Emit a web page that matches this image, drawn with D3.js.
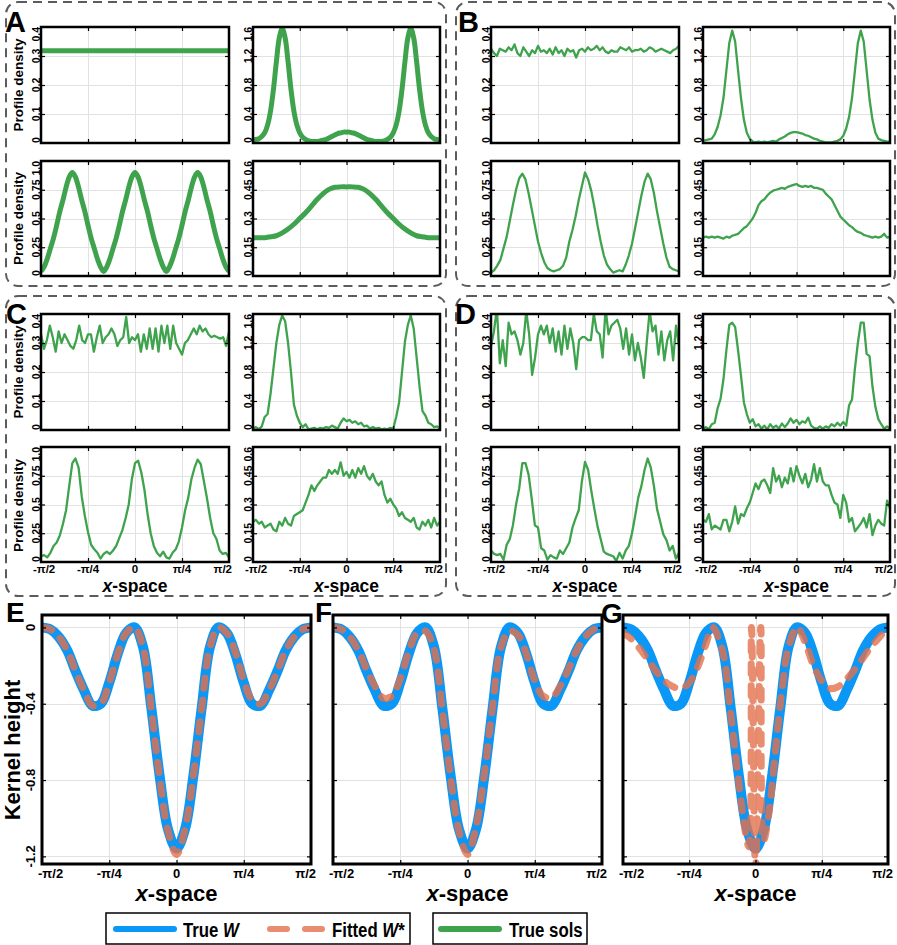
<!DOCTYPE html>
<html>
<head>
<meta charset="utf-8">
<title>Profiles and kernels</title>
<script src="https://d3js.org/d3.v7.min.js"></script>
<style>
body {margin: 0; background: white;}
svg text {font-family: "Liberation Sans", Arial, Helvetica, sans-serif; font-weight: bold; fill: black;}
.panelBox {fill: none; stroke: #5c5c5c; stroke-width: 2; stroke-dasharray: 9,6;}
.frame {fill: none; stroke: black; stroke-width: 2.5;}
.grid line {stroke: #e2e2e2; stroke-width: 1; shape-rendering: crispEdges;}
.ticks line {stroke: black; stroke-width: 1.2;}
</style>
</head>
<body>
<svg id="fig" width="897" height="945"></svg>
<script>
var PI = Math.PI;

// shared x axis
var xTickValues = [-PI/2, -PI/4, 0, PI/4, PI/2];
var xTickLabels = ["-π/2", "-π/4", "0", "π/4", "π/2"];

// y axes of the four profile slots
var yTicksFlat = [0, 0.1, 0.2, 0.3, 0.4];
var yLabelsFlat = ["0", "0.1", "0.2", "0.3", "0.4"];
var yTicksTwo = [0, 0.4, 0.8, 1.2, 1.6];
var yLabelsTwo = ["0", "0.4", "0.8", "1.2", "1.6"];
var yTicksThree = [0, 0.25, 0.5, 0.75, 1];
var yLabelsThree = ["0", "0.25", "0.5", "0.75", "1.0"];
var yTicksBump = [0, 0.15, 0.3, 0.45, 0.6];
var yLabelsBump = ["0", "0.15", "0.3", "0.45", "0.6"];

// kernel y axis
var kTicks = [0, -0.4, -0.8, -1.2];
var kLabels = ["0", "-0.4", "-0.8", "-1.2"];

// A: true solutions (smooth)
var solA_flat = [0.318, 0.318];
var solA_two = [0.04,0.05,0.06,0.09,0.14,0.25,0.44,0.74,1.12,1.45,
  1.58,1.45,1.12,0.74,0.44,0.25,0.14,0.08,0.05,0.03,
  0.02,0.02,0.02,0.03,0.04,0.05,0.07,0.09,0.11,0.13,
  0.14,0.15,0.15,0.15,0.14,0.13,0.11,0.09,0.07,0.05,
  0.04,0.03,0.02,0.02,0.02,0.03,0.05,0.08,0.14,0.25,
  0.44,0.74,1.12,1.45,1.58,1.45,1.12,0.74,0.44,0.25,
  0.14,0.09,0.06,0.05,0.04];
var solA_three = [0.04,0.08,0.15,0.24,0.33,0.44,0.56,0.66,0.77,0.86,
  0.90,0.86,0.77,0.66,0.56,0.44,0.33,0.24,0.15,0.08,
  0.04,0.08,0.15,0.24,0.33,0.44,0.56,0.66,0.77,0.86,
  0.90,0.86,0.77,0.66,0.56,0.44,0.33,0.24,0.15,0.08,
  0.04,0.08,0.15,0.24,0.33,0.44,0.56,0.66,0.77,0.86,
  0.90,0.86,0.77,0.66,0.56,0.44,0.33,0.24,0.15,0.08,0.04];
var solA_bump = [0.20,0.20,0.20,0.205,0.21,0.225,0.245,0.27,0.30,0.33,0.365,0.40,0.43,0.452,0.463,0.465,
  0.465,0.465,0.463,0.452,0.43,0.40,0.365,0.33,0.30,0.27,0.245,0.225,0.21,0.205,0.20,0.20,0.20];

// B
var solB_flat = [0.325,0.31,0.30,0.325,0.32,0.315,0.33,0.32,0.34,0.31,
  0.30,0.33,0.315,0.30,0.32,0.31,0.335,0.315,0.32,0.31,
  0.325,0.305,0.33,0.31,0.32,0.30,0.325,0.315,0.32,0.295,
  0.32,0.325,0.315,0.33,0.32,0.325,0.335,0.32,0.33,0.315,
  0.31,0.32,0.315,0.315,0.33,0.325,0.32,0.33,0.315,0.32,
  0.32,0.325,0.315,0.32,0.33,0.325,0.315,0.32,0.325,0.32,
  0.315,0.31,0.32,0.325,0.335];
var solB_two = [0.03,0.04,0.05,0.06,0.12,0.22,0.38,0.62,1.0,1.38,
  1.55,1.40,1.0,0.62,0.32,0.14,0.06,0.02,0.01,0.02,
  0.01,0.02,0.01,0.02,0.03,0.02,0.05,0.07,0.09,0.12,
  0.14,0.15,0.15,0.14,0.13,0.11,0.10,0.08,0.06,0.05,
  0.03,0.02,0.01,0.01,0.01,0.02,0.03,0.05,0.10,0.20,
  0.36,0.62,1.0,1.38,1.55,1.40,1.0,0.6,0.32,0.14,
  0.06,0.04,0.03,0.02,0.02];
var solB_three = [0.03,0.05,0.09,0.14,0.24,0.34,0.48,0.62,0.75,0.85,0.89,
  0.84,0.72,0.58,0.44,0.30,0.20,0.12,0.07,0.05,0.04,
  0.05,0.06,0.09,0.16,0.30,0.40,0.52,0.66,0.78,0.90,
  0.84,0.74,0.60,0.44,0.30,0.18,0.10,0.06,0.03,0.04,
  0.05,0.04,0.10,0.18,0.28,0.42,0.56,0.70,0.82,0.89,
  0.84,0.72,0.56,0.42,0.28,0.16,0.08,0.06,0.05,0.04];
var solB_bump = [0.20,0.205,0.20,0.205,0.20,0.205,0.20,0.195,0.205,0.20,
  0.21,0.215,0.22,0.235,0.25,0.26,0.28,0.30,0.33,0.37,
  0.39,0.40,0.42,0.435,0.445,0.45,0.455,0.46,0.455,0.465,
  0.47,0.475,0.48,0.47,0.465,0.47,0.465,0.47,0.46,0.46,
  0.455,0.45,0.43,0.415,0.40,0.37,0.34,0.31,0.295,0.28,
  0.265,0.255,0.24,0.23,0.225,0.215,0.21,0.205,0.20,0.205,
  0.20,0.205,0.22,0.20,0.205];

// C
var solC_flat = [0.33,0.28,0.31,0.36,0.32,0.27,0.34,0.30,0.33,0.31,
  0.29,0.28,0.31,0.36,0.31,0.30,0.33,0.33,0.27,0.32,
  0.36,0.30,0.32,0.33,0.35,0.33,0.29,0.31,0.32,0.39,
  0.30,0.32,0.31,0.33,0.27,0.33,0.28,0.35,0.28,0.35,
  0.27,0.36,0.30,0.36,0.28,0.36,0.30,0.28,0.26,0.30,
  0.31,0.33,0.35,0.33,0.36,0.34,0.35,0.33,0.32,0.325,
  0.32,0.315,0.32,0.29,0.34];
var solC_two = [0.02,0.04,0.01,0.05,0.18,0.22,0.50,0.85,1.20,1.45,
  1.58,1.50,1.20,0.80,0.35,0.20,0.10,0.04,0.08,0.01,
  0.02,0.03,0.01,0.03,0.02,0.04,0.03,0.06,0.04,0.02,
  0.10,0.16,0.12,0.14,0.10,0.12,0.08,0.10,0.05,0.06,
  0.02,0.04,0.02,0.03,0.01,0.02,0.01,0.03,0.02,0.18,
  0.38,0.80,1.22,1.45,1.58,1.40,1.00,0.60,0.26,0.20,
  0.10,0.08,0.04,0.05,0.02];
var solC_three = [0.05,0.06,0.04,0.08,0.14,0.17,0.23,0.33,0.45,0.66,0.86,
  0.90,0.82,0.57,0.40,0.26,0.15,0.11,0.08,0.03,0.07,
  0.09,0.07,0.10,0.14,0.21,0.28,0.38,0.50,0.72,0.86,
  0.88,0.78,0.63,0.42,0.25,0.14,0.08,0.05,0.09,0.04,
  0.03,0.08,0.11,0.18,0.30,0.45,0.56,0.72,0.82,0.89,
  0.85,0.70,0.55,0.38,0.25,0.20,0.10,0.07,0.08,0.04];
var solC_bump = [0.21,0.22,0.20,0.21,0.18,0.19,0.20,0.17,0.16,0.21,
  0.19,0.23,0.20,0.19,0.24,0.25,0.26,0.27,0.31,0.35,
  0.40,0.37,0.40,0.42,0.44,0.44,0.48,0.46,0.48,0.46,
  0.52,0.45,0.47,0.44,0.48,0.44,0.49,0.46,0.50,0.45,
  0.43,0.46,0.42,0.40,0.42,0.35,0.31,0.33,0.30,0.28,
  0.24,0.26,0.23,0.22,0.21,0.23,0.18,0.17,0.21,0.19,
  0.22,0.18,0.23,0.19,0.21];

// D
var solD_flat = [0.29,0.34,0.42,0.23,0.31,0.22,0.37,0.33,0.34,0.31,
  0.26,0.30,0.41,0.33,0.19,0.25,0.33,0.36,0.33,0.36,
  0.30,0.35,0.27,0.34,0.26,0.36,0.28,0.35,0.30,0.21,
  0.31,0.32,0.32,0.31,0.31,0.40,0.34,0.33,0.25,0.42,
  0.33,0.36,0.37,0.38,0.35,0.28,0.35,0.26,0.33,0.24,
  0.30,0.25,0.18,0.30,0.41,0.34,0.36,0.26,0.34,0.24,
  0.31,0.34,0.24,0.36,0.29];
var solD_two = [0.02,0.04,0.01,0.08,0.10,0.30,0.43,0.70,1.10,1.45,
  1.48,1.42,1.10,0.75,0.38,0.22,0.10,0.15,0.05,0.08,
  0.02,0.06,0.01,0.08,0.03,0.06,0.02,0.09,0.04,0.09,
  0.16,0.10,0.14,0.08,0.12,0.10,0.17,0.06,0.03,0.02,
  0.05,0.02,0.05,0.03,0.08,0.05,0.10,0.06,0.11,0.06,
  0.34,0.42,0.85,1.20,1.48,1.48,1.05,1.02,0.60,0.32,
  0.15,0.08,0.02,0.05,0.02];
var solD_three = [0.10,0.07,0.06,0.07,0.02,0.15,0.20,0.32,0.50,0.64,0.86,
  0.86,0.76,0.55,0.32,0.30,0.12,0.10,0.02,0.06,0.04,
  0.03,0.10,0.07,0.12,0.17,0.30,0.38,0.45,0.70,0.87,
  0.80,0.62,0.46,0.31,0.20,0.09,0.07,0.06,0.05,0.01,
  0.08,0.03,0.10,0.14,0.25,0.40,0.56,0.66,0.80,0.90,
  0.82,0.66,0.46,0.35,0.24,0.19,0.10,0.14,0.03,0.08];
var solD_bump = [0.22,0.21,0.25,0.17,0.19,0.18,0.17,0.22,0.22,0.16,
  0.21,0.29,0.20,0.25,0.24,0.28,0.31,0.36,0.41,0.38,
  0.42,0.43,0.40,0.36,0.49,0.42,0.45,0.39,0.44,0.41,
  0.49,0.42,0.50,0.45,0.41,0.46,0.39,0.43,0.51,0.42,
  0.49,0.42,0.40,0.40,0.35,0.31,0.30,0.23,0.35,0.31,
  0.21,0.23,0.16,0.18,0.20,0.23,0.18,0.25,0.14,0.19,
  0.22,0.20,0.19,0.32,0.28];

// kernels, sampled every pi/32 from -pi/2 to pi/2
var trueW = [0,-0.01,-0.05,-0.12,-0.23,-0.33,-0.41,-0.40,-0.29,-0.14,-0.03,0,-0.10,-0.42,-0.78,-1.06,-1.16,
  -1.06,-0.78,-0.42,-0.10,0,-0.03,-0.14,-0.29,-0.40,-0.41,-0.33,-0.23,-0.12,-0.05,-0.01,0];
var fitE = [0,-0.01,-0.05,-0.12,-0.23,-0.33,-0.41,-0.40,-0.29,-0.14,-0.03,0,-0.10,-0.43,-0.79,-1.07,-1.19,
  -1.06,-0.78,-0.42,-0.10,0,-0.03,-0.13,-0.28,-0.38,-0.40,-0.33,-0.23,-0.12,-0.05,-0.01,0];
var fitF = [0,-0.01,-0.05,-0.12,-0.22,-0.31,-0.37,-0.36,-0.27,-0.13,-0.03,-0.02,-0.11,-0.43,-0.79,-1.07,-1.19,
  -1.05,-0.77,-0.41,-0.10,-0.02,-0.04,-0.14,-0.28,-0.36,-0.37,-0.31,-0.22,-0.12,-0.05,-0.01,0];
// G fit: positions in units of pi/4 and values
var fitG_u = [-2,-1.875,-1.75,-1.625,-1.5,-1.375,-1.25,-1.125,-1,-0.875,-0.75,-0.65,-0.5,-0.375,-0.25,-0.15,-0.1,
  -0.06,0,0.08,0.12,0.2,0.3,0.4,0.5,0.63,0.75,0.875,1,1.125,1.25,1.375,1.5,1.625,1.75,1.875,2];
var fitG_y = [-0.03,-0.06,-0.11,-0.17,-0.23,-0.28,-0.31,-0.32,-0.29,-0.21,-0.09,0,-0.12,-0.45,-0.82,-1.08,-1.15,
  0.0,-1.27,0.0,-1.12,-0.98,-0.65,-0.33,-0.10,0,-0.08,-0.2,-0.28,-0.32,-0.31,-0.27,-0.22,-0.16,-0.1,-0.05,0];

var green = "#3fa34d", blue = "#0a97f5", orange = "#e4704c";

var svg = d3.select("#fig");
var clipCount = 0;

function toPoints(values) {
  return values.map(function(v, i) { return [-PI/2 + PI * i / (values.length - 1), v]; });
}

function addClip(x0, x1, y0, y1) {
  var id = "clip" + (clipCount++);
  svg.append("clipPath").attr("id", id).append("rect")
    .attr("x", x0).attr("y", y0).attr("width", x1 - x0).attr("height", y1 - y0);
  return "url(#" + id + ")";
}

function drawGrid(g, x, y, xt, yt, x0, x1, y0, y1) {
  var gx = g.append("g").attr("class", "grid").attr("transform", "translate(0," + y1 + ")")
    .call(d3.axisBottom(x).tickValues(xt).tickSize(-(y1 - y0)).tickFormat(""));
  var gy = g.append("g").attr("class", "grid").attr("transform", "translate(" + x0 + ",0)")
    .call(d3.axisLeft(y).tickValues(yt).tickSize(-(x1 - x0)).tickFormat(""));
  gx.select(".domain").remove();
  gy.select(".domain").remove();
}

function drawTicks(g, x, y, yt, x0, x1, y0, y1) {
  var L = -4;
  var list = [
    [d3.axisBottom(x).tickValues(xTickValues.slice(1, -1)), "translate(0," + y1 + ")"],
    [d3.axisTop(x).tickValues(xTickValues.slice(1, -1)), "translate(0," + y0 + ")"],
    [d3.axisLeft(y).tickValues(yt), "translate(" + x0 + ",0)"],
    [d3.axisRight(y).tickValues(yt), "translate(" + x1 + ",0)"]
  ];
  list.forEach(function(a) {
    var t = g.append("g").attr("class", "ticks").attr("transform", a[1])
      .call(a[0].tickSize(L).tickFormat(""));
    t.select(".domain").remove();
  });
  g.append("rect").attr("class", "frame")
    .attr("x", x0).attr("y", y0).attr("width", x1 - x0).attr("height", y1 - y0);
}

// x tick labels: end labels pulled inside so neighbours do not collide
function xLabels(g, x, base, size, shiftL, shiftR, titleBase, titleSize, cx) {
  xTickValues.forEach(function(t, i) {
    var anchor = "middle", px = x(t);
    if (i === 0) { anchor = "start"; px = x(t) - shiftL; }
    if (i === xTickValues.length - 1) { anchor = "end"; px = x(t) + shiftR; }
    g.append("text").attr("x", px).attr("y", base).attr("text-anchor", anchor)
      .style("font-size", size + "px").text(xTickLabels[i]);
  });
  var tt = g.append("text").attr("x", cx).attr("y", titleBase).attr("text-anchor", "middle")
    .style("font-size", titleSize + "px");
  tt.append("tspan").style("font-style", "italic").text("x");
  tt.append("tspan").text("-space");
}

// profile sub-plot
function profilePlot(x0, x1, y0, y1, ticks, labels, values, lw, smooth, showX) {
  var g = svg.append("g");
  var x = d3.scaleLinear().domain([-PI/2, PI/2]).range([x0, x1]);
  var y = d3.scaleLinear().domain([0, ticks[ticks.length - 1]]).range([y1, y0]);
  drawGrid(g, x, y, xTickValues.slice(1, -1), ticks.slice(1, -1), x0, x1, y0, y1);
  var line = d3.line().x(function(d) { return x(d[0]); }).y(function(d) { return y(d[1]); })
    .curve(smooth ? d3.curveCatmullRom.alpha(0.5) : d3.curveLinear);
  g.append("path").datum(toPoints(values))
    .attr("clip-path", addClip(x0, x1, y0, y1))
    .attr("d", line).attr("fill", "none").attr("stroke", green)
    .attr("stroke-width", lw).attr("stroke-linejoin", "round");
  drawTicks(g, x, y, ticks.slice(1, -1), x0, x1, y0, y1);
  ticks.forEach(function(t, i) {
    var anchor = i === 0 ? "start" : (i === ticks.length - 1 ? "end" : "middle");
    g.append("text").attr("transform", "translate(" + (x0 - 1.5) + "," + y(t) + ") rotate(-90)")
      .attr("text-anchor", anchor).style("font-size", "10.5px").text(labels[i]);
  });
  if (showX) xLabels(g, x, y1 + 11, 11.5, 8, 3, y1 + 30, 17.5, (x0 + x1) / 2);
}

function profileGroup(left, top, rowGap, data, lw, smooth, showX) {
  var cols = [[left, left + 188], [left + 212, left + 399]];
  var rows = [[top, top + 116], [top + rowGap, top + rowGap + 115]];
  profilePlot(cols[0][0], cols[0][1], rows[0][0], rows[0][1], yTicksFlat, yLabelsFlat, data[0], lw, smooth, false);
  profilePlot(cols[1][0], cols[1][1], rows[0][0], rows[0][1], yTicksTwo, yLabelsTwo, data[1], lw, smooth, false);
  profilePlot(cols[0][0], cols[0][1], rows[1][0], rows[1][1], yTicksThree, yLabelsThree, data[2], lw, smooth, showX);
  profilePlot(cols[1][0], cols[1][1], rows[1][0], rows[1][1], yTicksBump, yLabelsBump, data[3], lw, smooth, showX);
}

// dashed group boxes
[[6, 2, 440, 284], [456, 2, 439, 284], [6, 296, 440, 300], [456, 296, 439, 300]].forEach(function(b) {
  svg.append("rect").attr("class", "panelBox")
    .attr("x", b[0]).attr("y", b[1]).attr("width", b[2]).attr("height", b[3])
    .attr("rx", 12).attr("ry", 12);
});

profileGroup(41, 27, 134, [solA_flat, solA_two, solA_three, solA_bump], 5, true, false);
profileGroup(491, 27, 134, [solB_flat, solB_two, solB_three, solB_bump], 2.3, false, false);
profileGroup(41, 314, 133, [solC_flat, solC_two, solC_three, solC_bump], 2.3, false, true);
profileGroup(491, 314, 133, [solD_flat, solD_two, solD_three, solD_bump], 2.3, false, true);

// y titles for the left groups
[85, 218.5, 372, 505.5].forEach(function(cy) {
  svg.append("text").attr("transform", "translate(23," + cy + ") rotate(-90)")
    .attr("text-anchor", "middle").style("font-size", "13.5px").text("Profile density");
});

// panel letters
[["A", 5, 32], ["B", 458, 32], ["C", 6, 324], ["D", 455, 324]].forEach(function(p) {
  svg.append("text").attr("x", p[1]).attr("y", p[2]).style("font-size", "29px").text(p[0]);
});

// kernel plots
function kernelPlot(x0, x1, fitPoints, showY) {
  var y0 = 615, y1 = 864;
  var g = svg.append("g");
  var x = d3.scaleLinear().domain([-PI/2, PI/2]).range([x0, x1]);
  var y = d3.scaleLinear().domain([-1.24, 0.065]).range([y1, y0]);
  drawGrid(g, x, y, xTickValues.slice(1, -1), kTicks, x0, x1, y0, y1);
  var line = d3.line().x(function(d) { return x(d[0]); }).y(function(d) { return y(d[1]); })
    .curve(d3.curveCatmullRom.alpha(0.5));
  var clip = addClip(x0, x1, y0, y1);
  g.append("path").datum(toPoints(trueW)).attr("clip-path", clip)
    .attr("d", line).attr("fill", "none").attr("stroke", blue).attr("stroke-width", 10)
    .attr("stroke-linecap", "round").attr("stroke-linejoin", "round");
  g.append("path").datum(fitPoints).attr("clip-path", clip)
    .attr("d", line).attr("fill", "none").attr("stroke", orange).attr("stroke-opacity", 0.8)
    .attr("stroke-width", 7).attr("stroke-dasharray", "10,12").attr("stroke-linecap", "round");
  drawTicks(g, x, y, kTicks, x0, x1, y0, y1);
  g.select(".frame").style("stroke-width", 3);
  if (showY) {
    kTicks.forEach(function(t, i) {
      g.append("text").attr("transform", "translate(" + (x0 - 7) + "," + y(t) + ") rotate(-90)")
        .attr("text-anchor", "middle").style("font-size", "13px").text(kLabels[i]);
    });
  }
  xLabels(g, x, y1 + 14, 13, 4, 5, y1 + 37, 22, (x0 + x1) / 2);
}

kernelPlot(42, 311, toPoints(fitE), true);
kernelPlot(333, 602, toPoints(fitF), false);
kernelPlot(623, 888, fitG_u.map(function(u, i) { return [u * PI / 4, fitG_y[i]]; }), false);

svg.append("text").attr("transform", "translate(20,750) rotate(-90)")
  .attr("text-anchor", "middle").style("font-size", "22px").text("Kernel height");

[["E", 6, 622], ["F", 315, 622], ["G", 601, 623]].forEach(function(p) {
  svg.append("text").attr("x", p[1]).attr("y", p[2]).style("font-size", "28px").text(p[0]);
});

// legend
var legend = svg.append("g");
legend.append("rect").attr("x", 106).attr("y", 913).attr("width", 304).attr("height", 31)
  .attr("fill", "white").attr("stroke", "black").attr("stroke-width", 1.5);
legend.append("rect").attr("x", 433).attr("y", 913).attr("width", 154).attr("height", 31)
  .attr("fill", "white").attr("stroke", "black").attr("stroke-width", 1.5);
legend.append("line").attr("x1", 116).attr("x2", 174).attr("y1", 929).attr("y2", 929)
  .attr("stroke", blue).attr("stroke-width", 6).attr("stroke-linecap", "round");
legend.append("line").attr("x1", 270).attr("x2", 323).attr("y1", 929).attr("y2", 929)
  .attr("stroke", orange).attr("stroke-opacity", 0.8).attr("stroke-width", 6)
  .attr("stroke-dasharray", "17,18").attr("stroke-linecap", "round");
legend.append("line").attr("x1", 441).attr("x2", 499).attr("y1", 929).attr("y2", 929)
  .attr("stroke", green).attr("stroke-width", 6).attr("stroke-linecap", "round");

// legend labels are set in a narrow face, so squeeze them horizontally
function legendLabel(px, parts) {
  var t = legend.append("text").attr("transform", "translate(" + px + ",937) scale(0.8,1)")
    .style("font-size", "21px");
  parts.forEach(function(p) {
    t.append("tspan").style("font-style", p[1] ? "italic" : "normal").text(p[0]);
  });
}
legendLabel(183, [["True ", false], ["W", true]]);
legendLabel(332, [["Fitted ", false], ["W", true], ["*", false]]);
legendLabel(509, [["True sols", false]]);
</script>
</body>
</html>
